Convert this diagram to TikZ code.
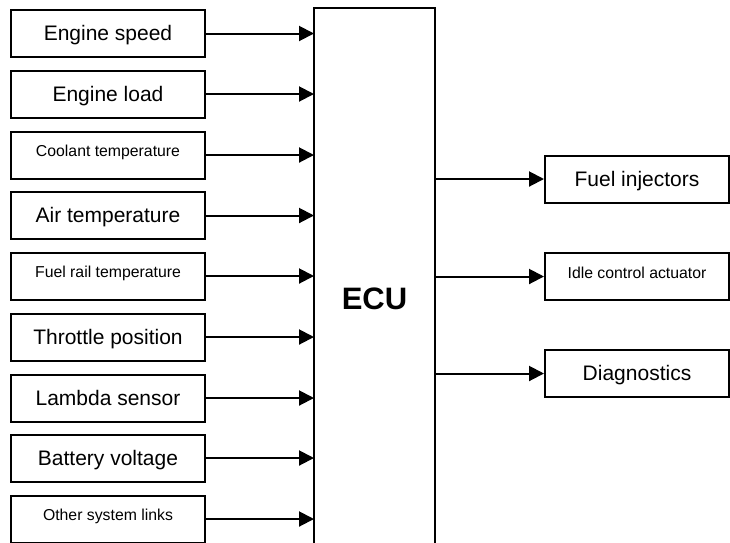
\documentclass[tikz,border=0pt]{standalone}
\usepackage{fontspec}
\setmainfont{Liberation Sans}
\usetikzlibrary{arrows.meta}
\begin{document}
\begin{tikzpicture}[x=1pt,y=-1pt,
  inbox/.style={draw, line width=2pt, minimum width=194pt, minimum height=47pt,
    inner sep=0pt, text height=15pt, text depth=1pt, font=\fontsize{21}{24}\selectfont},
  outbox/.style={draw, line width=2pt, minimum width=184pt, minimum height=47pt,
    inner sep=0pt, text height=15pt, text depth=1pt, font=\fontsize{21}{24}\selectfont},
  smalltext/.style={text height=11.5pt, text depth=8pt, font=\fontsize{15.8}{18}\selectfont},
  sig/.style={line width=2pt, -{Triangle[length=15pt,width=15pt]}}]
\useasboundingbox (0,0) rectangle (730,542);
\clip (0,0) rectangle (730,542);

% central control unit (runs off the lower edge)
\node[draw, line width=2pt, minimum width=121pt, minimum height=580pt, inner sep=0pt]
  (ecu) at (374.5,298) {};
\node[text height=22pt, text depth=0pt, inner sep=0pt,
  font=\fontsize{31}{34}\selectfont\bfseries] (ecutext) at (374.5,298) {ECU};
\coordinate (ecuW) at (314,0);
\coordinate (ecuE) at (435,0);

% sensor inputs
\node[inbox] (s1) at (108,33.5) {Engine speed};
\node[inbox] (s2) at (108,94) {Engine load};
\node[inbox, smalltext] (s3) at (108,155) {Coolant temperature};
\node[inbox] (s4) at (108,215.5) {Air temperature};
\node[inbox, smalltext] (s5) at (108,276) {Fuel rail temperature};
\node[inbox] (s6) at (108,337) {Throttle position};
\node[inbox] (s7) at (108,398) {Lambda sensor};
\node[inbox] (s8) at (108,458) {Battery voltage};
\node[inbox, smalltext] (s9) at (108,519) {Other system links};

\foreach \s in {s1,s2,s3,s4,s5,s6,s7,s8,s9}
  \draw[sig] (\s.east) -- (\s.east -| ecuW);

% actuator outputs
\node[outbox] (o1) at (637,179) {Fuel injectors};
\node[outbox, smalltext] (o2) at (637,276.5) {Idle control actuator};
\node[outbox] (o3) at (637,373.5) {Diagnostics};

\foreach \o in {o1,o2,o3}
  \draw[sig] (\o.west -| ecuE) -- (\o.west);
\end{tikzpicture}
\end{document}
